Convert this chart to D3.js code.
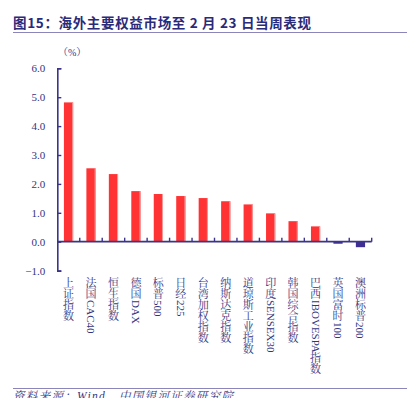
<!DOCTYPE html>
<html>
<head>
<meta charset="utf-8">
<script src="https://cdn.jsdelivr.net/npm/d3@7"></script>
<style>
  body { margin: 0; background: #fff; }
  svg { display: block; }
</style>
</head>
<body>
<div id="chart"></div>
<script>
// weekly performance of major overseas equity indices
const markets = ["上证指数", "法国CAC40", "恒生指数", "德国DAX", "标普500", "日经225", "台湾加权指数",
  "纳斯达克指数", "道琼斯工业指数", "印度SENSEX30", "韩国综合指数", "巴西IBOVESPA指数", "英国富时100", "澳洲标普200"];
const weekChange = [4.82, 2.54, 2.34, 1.75, 1.65, 1.58, 1.51, 1.40, 1.29, 0.98, 0.71, 0.53, -0.07, -0.19];
const yTicks = [-1, 0, 1, 2, 3, 4, 5, 6];

const W = 416, H = 398;
const navy = "#3b3489";
const textNavy = "#33337f";
const serif = "'Liberation Serif', 'Times New Roman', 'Noto Serif CJK SC', 'Noto Sans CJK SC', serif";

const svg = d3.select("#chart").append("svg")
  .attr("width", W).attr("height", H);

// title + rule
svg.append("text")
  .attr("x", 13).attr("y", 28)
  .attr("font-family", "'Noto Sans CJK SC', sans-serif")
  .attr("font-weight", "bold")
  .attr("font-size", 13.5)
  .attr("fill", "#2a2a7a")
  .attr("textLength", 298)
  .attr("lengthAdjust", "spacing")
  .text("图15：海外主要权益市场至 2 月 23 日当周表现");
svg.append("line")
  .attr("x1", 13).attr("x2", 407).attr("y1", 32.5).attr("y2", 32.5)
  .attr("stroke", "#8a86bb").attr("stroke-width", 1);

// scales
const x = d3.scaleBand().domain(markets).range([57.3, 371.7]).paddingInner(0.59).paddingOuter(0.295);
const y = d3.scaleLinear().domain([-1, 6]).range([270.6, 68.3]);

// unit
svg.append("text")
  .attr("x", 58).attr("y", 56)
  .attr("font-family", serif).attr("font-size", 10)
  .attr("fill", textNavy)
  .text("（%）");

// y axis
const yAxis = svg.append("g")
  .attr("transform", "translate(57.3,0)")
  .call(d3.axisRight(y).tickValues(yTicks).tickSize(4).tickFormat(d3.format(".1f")));
yAxis.select(".domain").attr("stroke", navy).attr("stroke-width", 1.6);
yAxis.selectAll(".tick line").attr("stroke", navy).attr("stroke-width", 1.4);
yAxis.selectAll(".tick text")
  .attr("x", -12).attr("text-anchor", "end")
  .attr("font-family", serif).attr("font-size", 11)
  .attr("fill", textNavy)
  .text(d => d < 0 ? "\u2212" + Math.abs(d).toFixed(1) : d.toFixed(1));

// bars
const bars = svg.append("g");
bars.selectAll("rect.bar")
  .data(weekChange)
  .join("rect")
  .attr("class", "bar")
  .attr("x", (d, i) => x(markets[i]))
  .attr("width", x.bandwidth())
  .attr("y", d => y(Math.max(0, d)))
  .attr("height", d => Math.abs(y(d) - y(0)))
  .attr("fill", d => d >= 0 ? "#ff3333" : "#3f2f94");
// light edge on positive bars
bars.selectAll("rect.edge")
  .data(weekChange.filter(d => d > 0))
  .join("rect")
  .attr("class", "edge")
  .attr("x", (d, i) => x(markets[i]) + x.bandwidth() - 1)
  .attr("width", 1)
  .attr("y", d => y(d))
  .attr("height", d => y(0) - y(d))
  .attr("fill", "#ff9a9a");

// x axis: baseline with separators pointing up
const step = x.step();
const seps = d3.range(1, markets.length + 1).map(i => 57.3 + i * step);
svg.append("line")
  .attr("x1", 57.3).attr("x2", 371.7)
  .attr("y1", y(0)).attr("y2", y(0))
  .attr("stroke", navy).attr("stroke-width", 1.8);
svg.selectAll("line.sep")
  .data(seps)
  .join("line")
  .attr("class", "sep")
  .attr("x1", d => d).attr("x2", d => d)
  .attr("y1", y(0)).attr("y2", y(0) - 4)
  .attr("stroke", navy).attr("stroke-width", 1.4);

// vertical category labels: CJK upright, latin runs turned 90deg
const fs = 11, labelTop = 278;
markets.forEach(name => {
  const cx = x(name) + x.bandwidth() / 2;
  const g = svg.append("g").attr("class", "cat");
  const runs = name.match(/[A-Za-z0-9]+|[^A-Za-z0-9]/g);
  let cy = labelTop;
  runs.forEach(r => {
    if (/^[A-Za-z0-9]+$/.test(r)) {
      const t = g.append("text")
        .attr("transform", `translate(${cx},${cy}) rotate(90)`)
        .attr("dominant-baseline", "central")
        .attr("font-family", serif).attr("font-size", fs)
        .attr("fill", textNavy)
        .text(r);
      cy += t.node().getComputedTextLength();
    } else {
      g.append("text")
        .attr("x", cx).attr("y", cy + fs * 0.86)
        .attr("text-anchor", "middle")
        .attr("font-family", serif).attr("font-size", fs)
        .attr("fill", textNavy)
        .text(r);
      cy += fs;
    }
  });
});

// source line
svg.append("line")
  .attr("x1", 13).attr("x2", 407).attr("y1", 388.5).attr("y2", 388.5)
  .attr("stroke", "#8a86bb").attr("stroke-width", 1);
svg.append("text")
  .attr("x", 13).attr("y", 400)
  .attr("font-family", serif).attr("font-size", 11.5)
  .attr("font-style", "italic")
  .attr("fill", textNavy)
  .attr("textLength", 220)
  .attr("lengthAdjust", "spacing")
  .text("资料来源：Wind，中国银河证券研究院");
</script>
</body>
</html>
